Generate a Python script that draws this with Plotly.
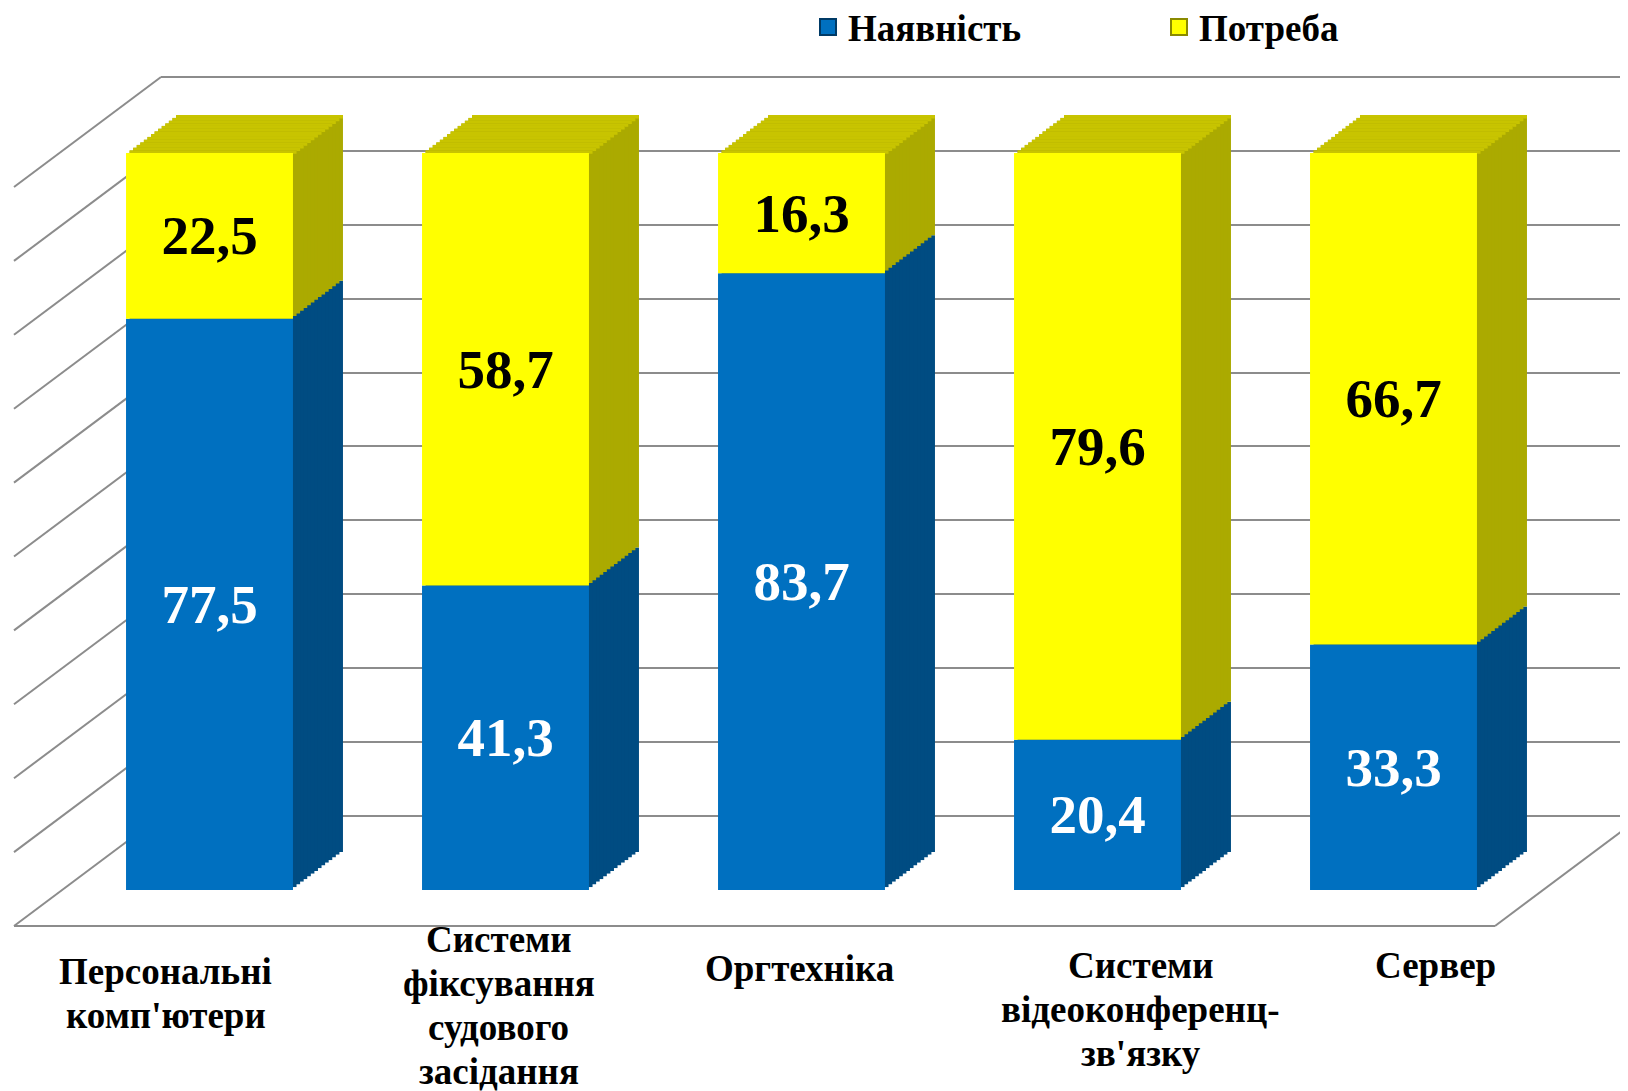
import plotly.graph_objects as go

# ---------------- data ----------------
categories = ["Персональні<br>комп'ютери",
              "Системи<br>фіксування<br>судового<br>засідання",
              "Оргтехніка",
              "Системи<br>відеоконференц-<br>зв'язку",
              "Сервер"]
nayavnist = [77.5, 41.3, 83.7, 20.4, 33.3]
potreba = [22.5, 58.7, 16.3, 79.6, 66.7]
series_names = ["Наявність", "Потреба"]
grid_values = list(range(0, 101, 10))

# ---------------- style / geometry ----------------
W, H = 1628, 1091
PAGE_OFF = 8  # body margin of the html page
FONT = "Liberation Serif"
BLUE, BLUE_SIDE = "#0070C0", "#004C82"
YEL, YEL_SIDE, YEL_TOP = "#FFFF00", "#ABAA00", "#C8C400"
GRID = "#8C8C8C"


def fx(x):
    return (x - PAGE_OFF) / W


def fy(y):
    return (H - (y - PAGE_OFF)) / H


# front faces of the bars (page pixels)
FX0, FX1 = 61.5, 1541.5          # category range -0.5 .. 4.5
FY0, FY100 = 890.0, 153.0        # value 0 and 100
DDX, DDY = 50.0, 38.0            # bar depth
NSTEP = 14                       # extrusion steps
UNIT_PX = (FY0 - FY100) / 100.0
CAP = 1.3 * (DDY / NSTEP) / UNIT_PX

# walls
WALL_UNIT = 7.39
BACK_X0, BACK_Y0 = 161.0, 816.0
FRONT_WX0, FRONT_WY0, FLOOR_X1 = 14.0, 926.0, 1495.0

fig = go.Figure()
layout_axes = {}

# axis 1: back wall gridlines
fig.add_trace(go.Scatter(x=[0, 1], y=[0, 0], mode="markers", marker=dict(opacity=0),
                         showlegend=False, hoverinfo="skip", xaxis="x", yaxis="y"))
layout_axes["xaxis"] = dict(domain=[fx(BACK_X0), 1], range=[0, 1], visible=False, fixedrange=True)
layout_axes["yaxis"] = dict(domain=[fy(BACK_Y0 + 0.5 * WALL_UNIT), fy(BACK_Y0 - 100.5 * WALL_UNIT)],
                            range=[-0.5, 100.5], dtick=10, tick0=0, showgrid=True,
                            gridcolor=GRID, gridwidth=2, zeroline=False, showticklabels=False,
                            ticks="", showline=False, fixedrange=True)

idx = list(range(len(categories)))
totals = [a + b for a, b in zip(nayavnist, potreba)]


def fmt(v):
    return ("<b>%.1f</b>" % v).replace(".", ",")


# extrusion copies (deepest first), then front face
ax = 2
front_x = "x"
for k in list(range(NSTEP, 0, -1)) + [0]:
    dx = DDX * k / NSTEP
    dy = DDY * k / NSTEP
    front = (k == 0)
    xs = "x%d" % ax
    ys = "y%d" % ax
    layout_axes["xaxis%d" % ax] = dict(domain=[fx(FX0 + dx), fx(FX1 + dx)], range=[-0.5, 4.5],
                                       visible=False, fixedrange=True, anchor=ys)
    layout_axes["yaxis%d" % ax] = dict(domain=[fy(FY0 - dy), fy(FY100 - dy)], range=[0, 100],
                                       visible=False, fixedrange=True, anchor=xs)
    fig.add_trace(go.Bar(
        x=idx, y=nayavnist, base=[0] * len(nayavnist), xaxis=xs, yaxis=ys,
        marker=dict(color=BLUE if front else BLUE_SIDE, line=dict(width=0)),
        text=[fmt(v) for v in nayavnist] if front else None,
        textposition="inside" if front else "none", insidetextanchor="middle", textangle=0,
        textfont=dict(family=FONT, size=55, color="white"),
        showlegend=False, hoverinfo="skip", width=0.564))
    fig.add_trace(go.Bar(
        x=idx, y=potreba, base=nayavnist, xaxis=xs, yaxis=ys,
        marker=dict(color=YEL if front else YEL_SIDE, line=dict(width=0)),
        text=[fmt(v) for v in potreba] if front else None,
        textposition="inside" if front else "none", insidetextanchor="middle", textangle=0,
        textfont=dict(family=FONT, size=55, color="black"),
        showlegend=False, hoverinfo="skip", width=0.564))
    if not front:
        # lighter top face strip
        fig.add_trace(go.Bar(
            x=idx, y=[CAP] * len(totals), base=[t - CAP for t in totals], xaxis=xs, yaxis=ys,
            marker=dict(color=YEL_TOP, line=dict(width=0)), textposition="none",
            showlegend=False, hoverinfo="skip", width=0.564))
    else:
        front_x = xs
    ax += 1

# legend entries
fig.add_trace(go.Scatter(x=[None], y=[None], mode="markers", name="<b>" + series_names[0] + "</b>",
                         marker=dict(symbol="square", size=17, color=BLUE,
                                     line=dict(color="#003A66", width=2)),
                         xaxis="x", yaxis="y", hoverinfo="skip"))
fig.add_trace(go.Scatter(x=[None], y=[None], mode="markers", name="<b>" + series_names[1] + "</b>",
                         marker=dict(symbol="square", size=17, color=YEL,
                                     line=dict(color="#8A8A00", width=2)),
                         xaxis="x", yaxis="y", hoverinfo="skip"))

# walls: left wall diagonals and floor edges
shapes = []
for v in grid_values:
    shapes.append(dict(type="line", xref="paper", yref="paper", layer="below",
                       x0=fx(FRONT_WX0), y0=fy(FRONT_WY0 - v * WALL_UNIT),
                       x1=fx(BACK_X0), y1=fy(BACK_Y0 - v * WALL_UNIT),
                       line=dict(color=GRID, width=2)))
shapes.append(dict(type="line", xref="paper", yref="paper", layer="below",
                   x0=fx(FRONT_WX0), y0=fy(FRONT_WY0), x1=fx(FLOOR_X1), y1=fy(FRONT_WY0),
                   line=dict(color=GRID, width=2)))
shapes.append(dict(type="line", xref="paper", yref="paper", layer="below",
                   x0=fx(FLOOR_X1), y0=fy(FRONT_WY0), x1=fx(FLOOR_X1 + BACK_X0 - FRONT_WX0),
                   y1=fy(BACK_Y0), line=dict(color=GRID, width=2)))

# category labels
label_xshift = [-44, -7, -2, 43, 42]
label_top = [971, 939, 968, 965, 965]
LINE_GAP = 44.0
annotations = []
for i, cat in enumerate(categories):
    for j, line in enumerate(cat.split("<br>")):
        annotations.append(dict(x=i, xref=front_x, y=fy(label_top[i] + j * LINE_GAP), yref="paper",
                                text="<b>" + line + "</b>", showarrow=False, xshift=label_xshift[i],
                                xanchor="center", yanchor="middle",
                                font=dict(family=FONT, size=37, color="black")))

fig.update_layout(
    width=W, height=H, autosize=False,
    margin=dict(l=0, r=0, t=0, b=0, pad=0, autoexpand=False),
    paper_bgcolor="white", plot_bgcolor="rgba(0,0,0,0)",
    barmode="overlay", hovermode=False,
    shapes=shapes, annotations=annotations,
    showlegend=True,
    legend=dict(orientation="h", x=fx(808), xanchor="left", y=fy(-3.5), yanchor="top",
                font=dict(family=FONT, size=37, color="black"),
                entrywidth=306, entrywidthmode="pixels", bgcolor="rgba(0,0,0,0)",
                itemclick=False, itemdoubleclick=False),
    **layout_axes,
)

fig.write_html("out.html")
